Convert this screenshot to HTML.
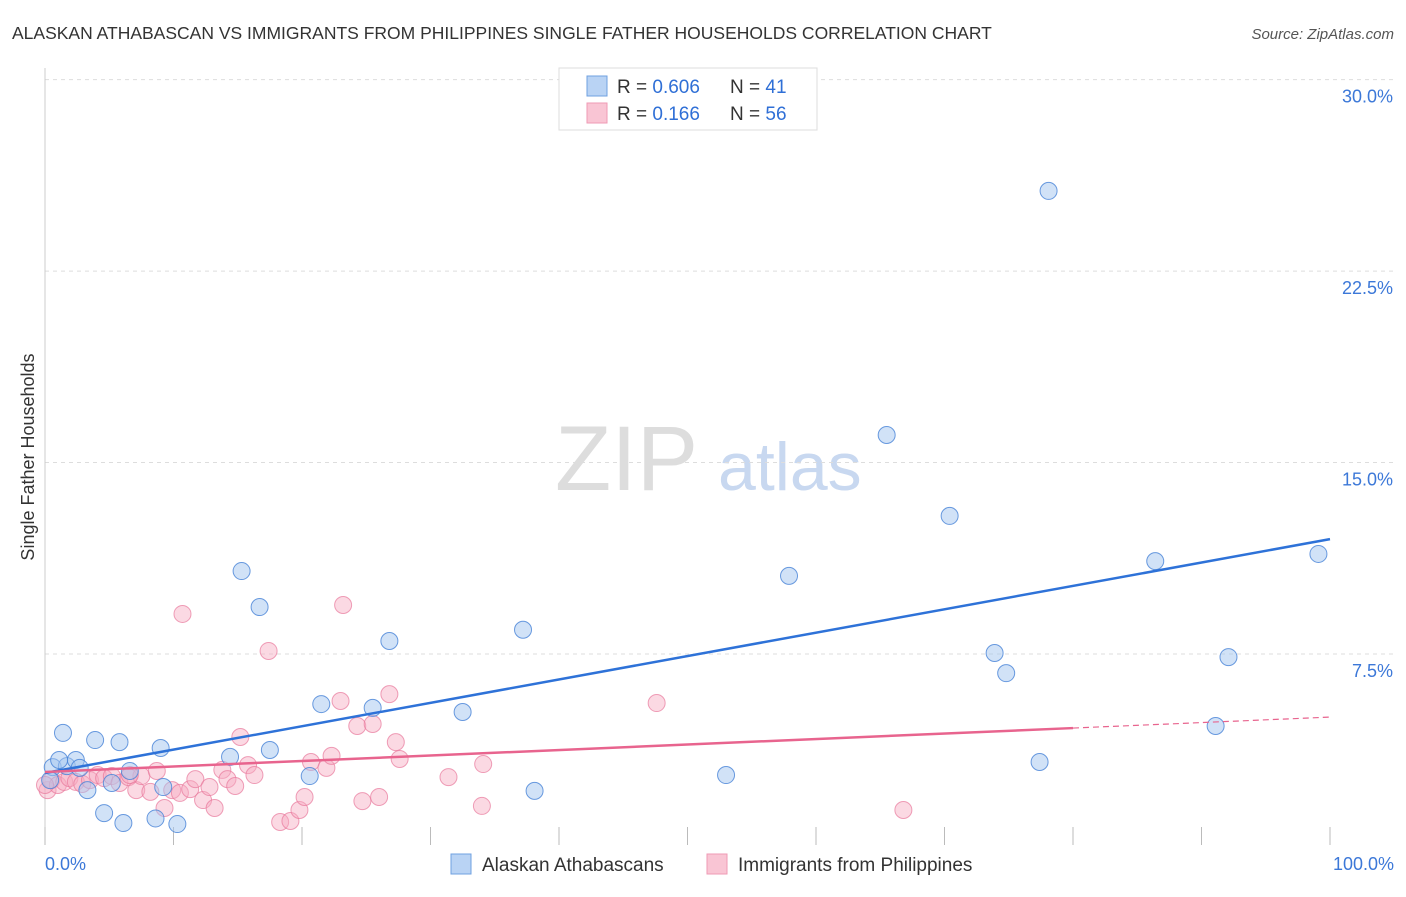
<!DOCTYPE html>
<html><head><meta charset="utf-8"><style>
body{margin:0;background:#fff;font-family:"Liberation Sans",sans-serif}
svg text{font-family:"Liberation Sans",sans-serif}
</style></head><body>
<svg id="c" width="1406" height="892">
<text x="12" y="39" font-size="17.5" fill="#333">ALASKAN ATHABASCAN VS IMMIGRANTS FROM PHILIPPINES SINGLE FATHER HOUSEHOLDS CORRELATION CHART</text>
<text x="1394" y="39" font-size="15" fill="#555" font-style="italic" text-anchor="end">Source: ZipAtlas.com</text>
<text x="555" y="490" font-size="92" fill="#ddd" font-family="Liberation Serif">ZIP</text>
<text x="718" y="490" font-size="68" fill="#c8d8f0">atlas</text>
<text transform="translate(34,457) rotate(-90)" font-size="18" fill="#333" text-anchor="middle">Single Father Households</text>
<g id="grid"></g><g id="pts"></g><g id="lines"></g>
<g>
<rect x="559" y="68" width="258" height="62" fill="#fff" stroke="#ddd"/>
<rect x="587" y="76" width="20" height="20" fill="#b9d3f4" stroke="#6fa0e0"/>
<rect x="587" y="103" width="20" height="20" fill="#f9c5d4" stroke="#ef9ab4"/>
<text x="617" y="93" font-size="19" fill="#333">R = <tspan fill="#2f6fd6">0.606</tspan></text>
<text x="730" y="93" font-size="19" fill="#333">N = <tspan fill="#2f6fd6"> 41</tspan></text>
<text x="617" y="120" font-size="19" fill="#333">R = <tspan fill="#2f6fd6"> 0.166</tspan></text>
<text x="730" y="120" font-size="19" fill="#333">N = <tspan fill="#2f6fd6">56</tspan></text>
</g>
<g>
<rect x="451" y="854" width="20" height="20" fill="#b9d3f4" stroke="#6fa0e0"/>
<text x="482" y="871" font-size="19" fill="#333">Alaskan Athabascans</text>
<rect x="707" y="854" width="20" height="20" fill="#f9c5d4" stroke="#ef9ab4"/>
<text x="738" y="871" font-size="19" fill="#333">Immigrants from Philippines</text>
</g>
</svg>
<script>
const yTicks=[7.5,15,22.5,30];
const yTickLabels=["7.5%","15.0%","22.5%","30.0%"];
const xTickLabels=["0.0%","100.0%"];
const blueX=[0.6,1.4,1.7,2.4,2.7,3.3,3.9,4.6,5.2,5.8,6.1,6.6,8.6,9.0,9.2,10.3,14.4,15.3,16.7,17.5,20.6,21.5,25.5,26.8,32.5,37.2,38.1,53.0,57.9,65.5,70.4,73.9,74.8,77.4,78.1,86.4,91.1,92.1,99.1,0.4,1.1];
const blueY=[3.07,4.41,3.11,3.35,3.04,2.17,4.13,1.27,2.45,4.05,0.88,2.92,1.06,3.82,2.29,0.84,3.47,10.75,9.34,3.74,2.72,5.54,5.39,8.01,5.23,8.45,2.14,2.76,10.56,16.08,12.91,7.54,6.75,3.27,25.64,11.14,4.68,7.38,11.42,2.56,3.35];
const pinkX=[0.2,0.5,1.0,1.5,1.9,2.4,2.9,3.5,4.1,4.6,5.2,5.8,6.5,7.1,7.5,8.2,8.7,9.3,9.9,10.5,10.7,11.3,11.7,12.3,12.8,13.2,13.8,14.2,14.8,15.2,15.8,16.3,17.4,18.3,19.1,19.8,20.2,20.7,21.9,22.3,23.0,23.2,24.3,24.7,25.5,26.0,26.8,27.3,27.6,31.4,34.0,34.1,47.6,66.8,0.0,6.6];
const pinkY=[2.17,2.56,2.37,2.49,2.64,2.49,2.41,2.56,2.76,2.64,2.72,2.45,2.68,2.17,2.72,2.10,2.92,1.47,2.17,2.06,9.07,2.21,2.60,1.78,2.29,1.47,2.96,2.60,2.33,4.25,3.15,2.76,7.62,0.92,0.96,1.39,1.90,3.27,3.04,3.51,5.66,9.42,4.68,1.74,4.76,1.90,5.93,4.05,3.39,2.68,1.55,3.19,5.58,1.39,2.37,2.76];
const blueTrend=[2.84,12.0];
const pinkTrend=[2.88,5.03];
const pinkSolidEnd=80;
const NS="http://www.w3.org/2000/svg";
const sx=v=>45+v*12.85, sy=v=>845.5-v*25.53;
function mk(t,a,p){const e=document.createElementNS(NS,t);for(const k in a)e.setAttribute(k,a[k]);p.appendChild(e);return e;}
const grid=document.getElementById('grid');
yTicks.forEach((t,i)=>{
 const l=mk('line',{x1:45,x2:1394,y1:sy(t),y2:sy(t),stroke:'#ddd','stroke-dasharray':'4,4'},grid);
 
 
 const tx=mk('text',{x:1393,y:sy(t)+23,'font-size':18,fill:'#3c78d8','text-anchor':'end'},grid);
 tx.textContent=yTickLabels[i];
 
 
});
const ax=mk('line',{x1:45,x2:45,y1:68,y2:845,stroke:'#ccc'},grid);


for(let i=0;i<=10;i++){
 const t=mk('line',{x1:sx(i*10),x2:sx(i*10),y1:827,y2:845,stroke:'#bbb'},grid);
 
 
}
[[0,'start',45],[100,'end',1394]].forEach((d,i)=>{
 const tx=mk('text',{x:d[2],y:870,'font-size':18,fill:'#3c78d8','text-anchor':d[1]},grid);
 tx.textContent=xTickLabels[i];
 
 
});
const pts=document.getElementById('pts');
pinkX.forEach((x,i)=>{
 const c=mk('circle',{cx:sx(x),cy:sy(pinkY[i]),r:8.5,fill:'rgba(246,170,194,0.45)',stroke:'rgba(232,120,155,0.7)','stroke-width':1},pts);
 
 
});
blueX.forEach((x,i)=>{
 const c=mk('circle',{cx:sx(x),cy:sy(blueY[i]),r:8.5,fill:'rgba(164,198,240,0.5)',stroke:'rgba(70,130,215,0.8)','stroke-width':1},pts);
 
 
});
const lines=document.getElementById('lines');
const bl=mk('line',{x1:sx(0),y1:sy(blueTrend[0]),x2:sx(100),y2:sy(blueTrend[1]),stroke:'#2e72d8','stroke-width':2.5},lines);


const pm=pinkTrend[0]+(pinkTrend[1]-pinkTrend[0])*pinkSolidEnd/100;
const pl=mk('line',{x1:sx(0),y1:sy(pinkTrend[0]),x2:sx(pinkSolidEnd),y2:sy(pm),stroke:'#e8648e','stroke-width':2.5},lines);


const pd=mk('line',{x1:sx(pinkSolidEnd),y1:sy(pm),x2:sx(100),y2:sy(pinkTrend[1]),stroke:'#e8648e','stroke-width':1.2,'stroke-dasharray':'6,4'},lines);


</script>
</body></html>
